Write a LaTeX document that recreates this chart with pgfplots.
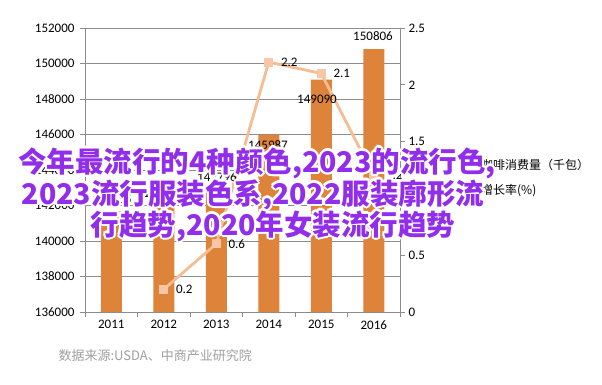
\documentclass[border=0pt]{standalone}
\usepackage{pgfplots}
\pgfplotsset{compat=1.18}
\usepackage{fontspec}
\setmainfont{Carlito}
\newfontfamily\cjk{Noto Sans CJK SC}
\definecolor{barorange}{RGB}{222,132,58}
\definecolor{linecol}{RGB}{246,188,148}
\definecolor{markcol}{RGB}{249,198,166}
\definecolor{gridgray}{RGB}{140,140,140}
\definecolor{ovpurple}{RGB}{145,45,235}
\definecolor{srcgray}{RGB}{160,160,160}
\newcommand{\ovfont}{\cjk\bfseries\fontsize{28.5}{31}\selectfont}
\newcommand{\ovtext}[3]{%
  \foreach \a in {0,30,...,330}{%
    \begin{scope}[shift={(\a:2.2pt)}]
      \node[text=white, font=\ovfont, inner sep=0pt] at (#1,#2) {#3};
    \end{scope}}%
  \node[text=ovpurple, font=\ovfont, inner sep=0pt] at (#1,#2) {#3};}
\begin{document}
\begin{tikzpicture}[x=1pt,y=1pt]
\fill[white] (0,0) rectangle (602,384);
\path[use as bounding box] (0,0) rectangle (602,384);
\begin{axis}[
  at={(85pt,72pt)}, anchor=south west, scale only axis,
  width=315pt, height=284pt,
  xmin=-0.5, xmax=5.5, ymin=136000, ymax=152000,
  axis x line*=bottom, axis y line*=left,
  axis line style={gridgray, line width=0.8pt},
  xtick={0,...,5}, xticklabels={2011,2012,2013,2014,2015,2016},
  major x tick style={draw=none},
  minor xtick={-0.5,0.5,...,5.5},
  minor x tick style={gridgray, line width=0.8pt},
  minor tick length=5pt, major tick length=5pt, tick align=outside,
  ytick={136000,138000,...,152000},
  ytick style={gridgray, line width=0.8pt},
  scaled y ticks=false,
  ymajorgrids, grid style={gridgray, line width=0.8pt},
  tick label style={font=\fontsize{13}{15}\selectfont},
  yticklabel style={xshift=-2pt},
  /pgf/number format/.cd, fixed, precision=0, 1000 sep={}, assume math mode=true
]
\addplot[ybar, bar width=21pt, fill=barorange, draw=none, forget plot]
  coordinates {(0,141665)(1,141962)(2,142796)(3,145987)(4,149090)(5,150806)};
\end{axis}
\begin{axis}[
  at={(85pt,72pt)}, anchor=south west, scale only axis,
  width=315pt, height=284pt,
  xmin=-0.5, xmax=5.5, ymin=0, ymax=2.5,
  axis y line*=right, axis x line=none,
  axis line style={gridgray, line width=0.8pt},
  ytick={0,0.5,...,2.5},
  major tick length=5pt, tick align=outside,
  ytick style={gridgray, line width=0.8pt},
  tick label style={font=\fontsize{13}{15}\selectfont},
  legend style={at={(1.178,0.474)}, anchor=west, draw=none, fill=none,
    font=\cjk\fontsize{12}{14}\selectfont, row sep=9pt},
  legend cell align=left,
  /pgf/number format/.cd, fixed, assume math mode=true
]
\addlegendimage{area legend, fill=barorange, draw=none}
\addlegendentry{咖啡消费量（千包）}
\addplot[linecol, line width=2.8pt, mark=square*, mark size=4pt,
  mark options={fill=markcol, draw=markcol, line width=0pt},
  nodes near coords, point meta=explicit symbolic,
  every node near coord/.append style={anchor=west, xshift=9pt, text=black,
    font=\fontsize{13}{15}\selectfont}]
  table[meta=l] {
x y l
1 0.2 0.2
2 0.6 0.6
3 2.2 2.2
4 2.1 2.1
5 1.2 1.2
};
\addlegendentry{增长率(\%)}
\end{axis}
% bar value labels
\begin{scope}[every node/.style={font=\fontsize{13}{15}\selectfont, inner sep=0pt}]
\node at (112,185) {141665};
\node at (163,191) {141962};
\node at (217,207) {142796};
\node at (268,239) {145987};
\node at (317,285) {149090};
\node at (373,348) {150806};
\end{scope}
\node[anchor=west, font=\cjk\fontsize{13}{15}\selectfont, text=srcgray] at (55,28) {数据来源:USDA、中商产业研究院};
\ovtext{257}{221}{今年最流行的4种颜色,2023的流行色,}
\ovtext{253}{189}{2023流行服装色系,2022服装廓形流}
\ovtext{273}{158}{行趋势,2020年女装流行趋势}
\end{tikzpicture}
\end{document}
